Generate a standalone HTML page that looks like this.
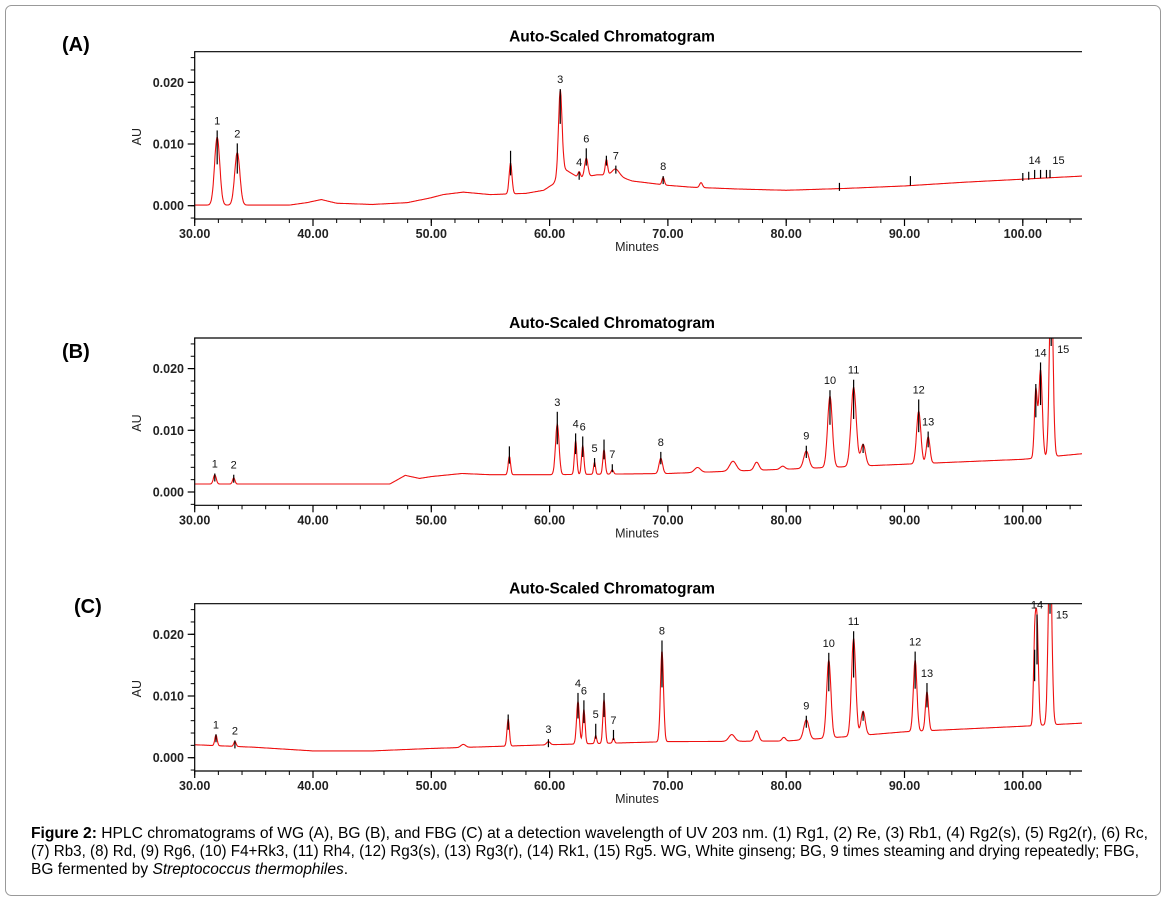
<!DOCTYPE html>
<html><head><meta charset="utf-8"><style>
html,body{margin:0;padding:0;background:#fff;}
svg{display:block;font-family:"Liberation Sans",Arial,sans-serif;}
</style></head><body>
<svg id="fig" width="1168" height="906" viewBox="0 0 1168 906">
<rect x="5.5" y="5.5" width="1155" height="890" rx="6" fill="#fff" stroke="#999" stroke-width="1"/>
<g id="panels"></g>
<g font-size="15.5" fill="#000">
<text x="31" y="838" textLength="1117" lengthAdjust="spacingAndGlyphs"><tspan font-weight="bold">Figure 2:</tspan> HPLC chromatograms of WG (A), BG (B), and FBG (C) at a detection wavelength of UV 203 nm. (1) Rg1, (2) Re, (3) Rb1, (4) Rg2(s), (5) Rg2(r), (6) Rc,</text>
<text x="31" y="856" textLength="1108" lengthAdjust="spacingAndGlyphs">(7) Rb3, (8) Rd, (9) Rg6, (10) F4+Rk3, (11) Rh4, (12) Rg3(s), (13) Rg3(r), (14) Rk1, (15) Rg5. WG, White ginseng; BG, 9 times steaming and drying repeatedly; FBG,</text>
<text x="31" y="874">BG fermented by <tspan font-style="italic">Streptococcus thermophiles</tspan>.</text>
</g>
</svg>
<script>
// ---- Data: baselines (time, AU) ----
const baseA_t=[30,38,39.5,40.7,42,45,48,50,51,52.7,55,58,59.5,60.3,61.2,62.5,64,65.5,67,70,72,76,80,85,90,95,100,105];
const baseA_v=[0.0001,0.0001,0.0005,0.001,0.0004,0.0002,0.0005,0.0013,0.0018,0.0022,0.0018,0.002,0.0025,0.0035,0.006,0.0045,0.005,0.005,0.004,0.0033,0.003,0.0027,0.0025,0.0028,0.0032,0.0038,0.0043,0.0048];
const baseB_t=[30,46.5,47.8,49,50,52.6,55,60,70,80,90,100,105];
const baseB_v=[0.0013,0.0013,0.0027,0.0022,0.0025,0.003,0.0028,0.0028,0.003,0.0037,0.0045,0.0053,0.0062];
const baseC_t=[30,35,40,45,50,55,60,70,80,85,90,100,105];
const baseC_v=[0.0021,0.0017,0.0011,0.0011,0.0015,0.0018,0.0021,0.0026,0.0027,0.0034,0.0042,0.0051,0.0056];
// ---- Data: peaks (retention min, height above baseline AU, width min, label, tick-top AU) ----
const peakA_t=[31.9,33.6,56.7,60.9,62.5,63.1,64.8,65.6,69.6,72.8,84.5,90.5,100,100.5,101,101.5,102,102.3];
const peakA_h=[0.011,0.0085,0.005,0.0135,0.001,0.003,0.0025,0.001,0.0012,0.0008,0,0,0,0,0,0,0,0];
const peakA_w=[0.22,0.22,0.12,0.15,0.1,0.14,0.1,0.3,0.1,0.12,0.1,0.1,0.1,0.1,0.1,0.1,0.1,0.1];
const peakA_lab=["1","2","","3","4","6","","7","8","","","","","","14","","15",""];
const peakA_tick=[0.0122,0.0101,0.0089,0.0189,0.0055,0.0093,0.0081,0.0065,0.0048,0,0.0037,0.0048,0.0053,0.0055,0.0058,0.0058,0.0058,0.0058];
const peakB_t=[31.7,33.3,56.6,60.65,62.2,62.8,63.8,64.6,65.3,69.4,72.5,75.5,77.5,79.7,81.7,83.7,85.7,86.5,91.2,92.0,101.1,101.5,102.4];
const peakB_h=[0.0015,0.001,0.003,0.0082,0.0055,0.0047,0.002,0.004,0.0007,0.0025,0.0008,0.0016,0.0013,0.0005,0.0028,0.0115,0.0128,0.0035,0.0085,0.0043,0.011,0.0142,0.03];
const peakB_w=[0.12,0.1,0.1,0.15,0.1,0.1,0.08,0.1,0.1,0.15,0.25,0.28,0.2,0.2,0.22,0.2,0.22,0.2,0.18,0.15,0.12,0.15,0.15];
const peakB_lab=["1","2","","3","4","6","5","","7","8","","","","","9","10","11","","12","13","","14","15"];
const peakB_tick=[0.003,0.0028,0.0074,0.013,0.0095,0.009,0.0055,0.0085,0.0045,0.0065,0,0,0,0,0.0075,0.0165,0.0182,0.0078,0.015,0.0098,0.0175,0.021,0.025];
const peakC_t=[31.8,33.4,52.7,56.5,59.9,62.4,62.9,63.9,64.6,65.4,69.5,75.4,77.5,79.8,81.7,83.6,85.7,86.5,90.9,91.9,101.0,101.2,102.3];
const peakC_h=[0.0017,0.0008,0.0005,0.0044,0.0005,0.0069,0.0056,0.0013,0.0071,0.0008,0.0147,0.0011,0.0017,0.0006,0.0032,0.0126,0.0158,0.0039,0.0115,0.0063,0.012,0.0165,0.03];
const peakC_w=[0.1,0.1,0.2,0.1,0.15,0.12,0.1,0.08,0.1,0.08,0.13,0.25,0.18,0.15,0.22,0.18,0.18,0.18,0.15,0.13,0.1,0.12,0.15];
const peakC_lab=["1","2","","","3","4","6","5","","7","8","","","","9","10","11","","12","13","","14","15"];
const peakC_tick=[0.0038,0.0028,0,0.007,0.003,0.0105,0.0093,0.0055,0.0105,0.0045,0.019,0,0,0,0.0068,0.017,0.0205,0.0075,0.0172,0.0121,0.0175,0.0232,0.025];
// x ticks and y ticks
const xTicks=[30,40,50,60,70,80,90,100];
const xTickLabels=["30.00","40.00","50.00","60.00","70.00","80.00","90.00","100.00"];
const yTicks=[0,0.01,0.02];
const yTickLabels=["0.000","0.010","0.020"];

const NS="http://www.w3.org/2000/svg";
const root=document.getElementById('panels');
function mk(tag,attrs,parent){const e=document.createElementNS(NS,tag);for(const k in attrs)e.setAttribute(k,attrs[k]);parent.appendChild(e);return e;}
function interp(ts,vs,t){if(t<=ts[0])return vs[0];for(let i=1;i<ts.length;i++){if(t<=ts[i]){const f=(t-ts[i-1])/(ts[i]-ts[i-1]);return vs[i-1]+f*(vs[i]-vs[i-1]);}}return vs[vs.length-1];}

const panels=[
 {id:'a',top:51.7,letter:'(A)',lx:62,ly:51,bt:baseA_t,bv:baseA_v,pt:peakA_t,ph:peakA_h,pw:peakA_w,pl:peakA_lab,pk:peakA_tick},
 {id:'b',top:338,letter:'(B)',lx:62,ly:358,bt:baseB_t,bv:baseB_v,pt:peakB_t,ph:peakB_h,pw:peakB_w,pl:peakB_lab,pk:peakB_tick},
 {id:'c',top:603.7,letter:'(C)',lx:74,ly:613,bt:baseC_t,bv:baseC_v,pt:peakC_t,ph:peakC_h,pw:peakC_w,pl:peakC_lab,pk:peakC_tick}
];
const X0=194.7, PXMIN=11.83, XR=1082, PXAU=6170;
panels.forEach(P=>{
 const g=mk('g',{},root);
 
 
 const y0=P.top+154;
 const bottom=P.top+167.3;
 const xs=t=>X0+(t-30)*PXMIN;
 const ys=v=>y0-v*PXAU;
 const title=mk('text',{x:612,y:P.top-10,'text-anchor':'middle','font-size':15.5,'font-weight':'bold'},g);
 title.textContent='Auto-Scaled Chromatogram';
 
 
 const let_=mk('text',{x:P.lx,y:P.ly,'font-size':20,'font-weight':'bold'},g);
 let_.textContent=P.letter;
 
 
 const cp=mk('clipPath',{id:'clip'+P.id},g);
 mk('rect',{x:X0,y:P.top,width:XR-X0,height:bottom-P.top},cp);
 let d='';
 for(let t=30;t<=105.001;t+=0.04){
  let v=interp(P.bt,P.bv,t);
  for(let i=0;i<P.pt.length;i++){const z=(t-P.pt[i])/P.pw[i];if(Math.abs(z)<6)v+=P.ph[i]*Math.exp(-0.5*z*z);}
  d+=(d?'L':'M')+xs(t).toFixed(1)+','+ys(v).toFixed(1);
 }
 const path=mk('path',{d:d,fill:'none',stroke:'#ee1111','stroke-width':1.1,'clip-path':'url(#clip'+P.id+')'},g);
 
 
 for(let i=0;i<P.pt.length;i++){
  if(!P.pk[i])continue;
  const base=interp(P.bt,P.bv,P.pt[i]);
  const x=xs(P.pt[i]);
  const yTop=Math.max(ys(P.pk[i]),P.top);
  const yBot=ys(base+P.ph[i]*0.6);
  const tk=mk('line',{x1:x,x2:x,y1:yTop,y2:Math.max(yBot,yTop+8),stroke:'#000','stroke-width':1.2},g);
  
  
  if(P.pl[i]){
   const lab=P.pl[i];
   const lx=(lab==='15')?x+12:x;
   const ly=(lab==='15')?Math.max(yTop-6,P.top+15):yTop-6;
   const tx=mk('text',{x:lx,y:ly,'text-anchor':'middle','font-size':11,fill:'#111'},g);
   tx.textContent=lab;
   
   
  }
 }
 const ax=mk('path',{d:`M${XR},${P.top}H${X0}V${bottom}H${XR}`,fill:'none',stroke:'#000','stroke-width':1.2},g);
 
 
 for(let t=30;t<=105;t+=2){
  const m=mk('line',{x1:xs(t),x2:xs(t),y1:bottom,y2:bottom+4,stroke:'#000','stroke-width':1},g);
  
  
 }
 xTicks.forEach((t,i)=>{
  const l=mk('line',{x1:xs(t),x2:xs(t),y1:bottom,y2:bottom+7,stroke:'#000','stroke-width':1.2},g);
  
  
  const tx=mk('text',{x:xs(t),y:bottom+19,'text-anchor':'middle','font-size':12.5,'font-weight':'bold','fill':'#222'},g);
  tx.textContent=xTickLabels[i];
  
  
 });
 const xt=mk('text',{x:637,y:bottom+32,'text-anchor':'middle','font-size':12.5,'fill':'#222'},g);
 xt.textContent='Minutes';
 
 
 for(let v=-0.002;v<=0.0245;v+=0.002){
  const m=mk('line',{x1:X0-4,x2:X0,y1:ys(v),y2:ys(v),stroke:'#000','stroke-width':1},g);
  
  
 }
 yTicks.forEach((v,i)=>{
  const l=mk('line',{x1:X0-7,x2:X0,y1:ys(v),y2:ys(v),stroke:'#000','stroke-width':1.2},g);
  
  
  const tx=mk('text',{x:184,y:ys(v)+4.5,'text-anchor':'end','font-size':12.5,'font-weight':'bold','fill':'#222'},g);
  tx.textContent=yTickLabels[i];
  
  
 });
 const yt=mk('text',{x:0,y:0,'text-anchor':'middle','font-size':12.5,'fill':'#222',transform:`translate(141,${P.top+85}) rotate(-90)`},g);
 yt.textContent='AU';
 
 
});
</script>
</body></html>
